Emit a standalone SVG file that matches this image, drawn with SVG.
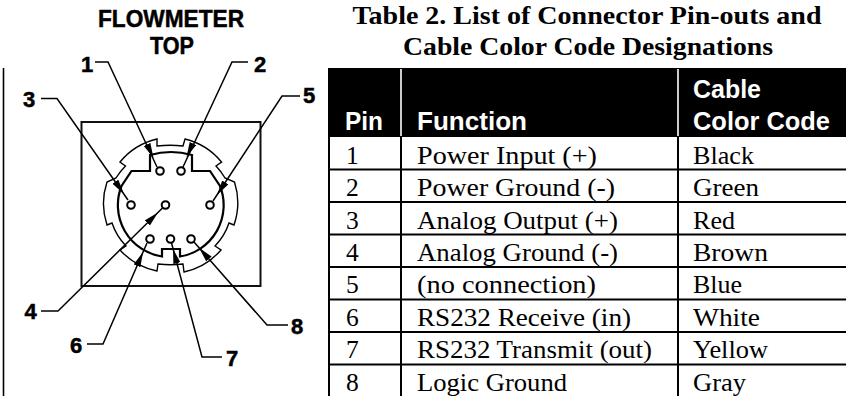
<svg xmlns="http://www.w3.org/2000/svg" width="846" height="396" viewBox="0 0 846 396">
<style>
.lbl{font:bold 22px "Liberation Sans",Arial,sans-serif;fill:#000;stroke:#000;stroke-width:.5}
.big{font-size:24px}
.ttl{font:bold 25px "Liberation Serif","Times New Roman",serif;fill:#000;text-anchor:middle}
.hd{font:bold 25px "Liberation Sans",Arial,sans-serif;fill:#fff}
.td{font:25.5px "Liberation Serif","Times New Roman",serif;fill:#000}
.ln{fill:none;stroke:#000;stroke-width:1.4}
.box{fill:none;stroke:#111;stroke-width:2}
.thick{fill:none;stroke:#000;stroke-width:2.2}
.pin{fill:#fff;stroke:#000;stroke-width:2}
.lead{fill:none;stroke:#000;stroke-width:1.5}
.arr{stroke:none;marker-end:url(#ah)}
.rule{stroke:#000;stroke-width:2;fill:none}
</style>
<defs>
<marker id="ah" markerUnits="userSpaceOnUse" markerWidth="16" markerHeight="9" refX="15" refY="4" orient="auto"><path d="M0,0.4L15,4L0,7.6Z" fill="#000"/></marker>
</defs>
<rect width="846" height="396" fill="#fff"/>
<line x1="3.500" y1="68" x2="3.500" y2="396" stroke="#000" stroke-width="1.600"/>
<g id="diagram-title">
<text class="lbl big" x="171" y="27" text-anchor="middle" textLength="146" lengthAdjust="spacingAndGlyphs">FLOWMETER</text>
<text class="lbl big" x="172" y="54" text-anchor="middle" textLength="44" lengthAdjust="spacingAndGlyphs">TOP</text>
</g>
<g id="connector-body">
<rect class="box" x="81.500" y="122" width="179" height="164"/>
<path class="ln" d="M157,139L157,146Q170.500,144.500 183,146L185,139A68,68 0 0 1 221.500,162L216,166A61,61 0 0 1 225,178L234.500,182A68,68 0 0 1 234,225L229,223A61,61 0 0 1 215,246L221,250A68,68 0 0 1 184,272L183,264Q170.500,265.500 158,264L157,271A68,68 0 0 1 120,250L126,246A61,61 0 0 1 112,223L107,225A68,68 0 0 1 107,182L116,178A61,61 0 0 1 125.500,166L120,162A68,68 0 0 1 157,139Z"/>
<path class="thick" d="M150,155Q171,149 192,155L192,171L210,171L220,186A52,52 0 0 1 180,256.500L180,249L162,249L162,256.500A52,52 0 0 1 121.500,186L131.500,171L150,171Z"/>
</g>
<g id="connectors">
<polyline class="lead" points="95,62 108,62 157,167"/>
<line class="arr" x1="108" y1="62" x2="153.500" y2="158"/>
<polyline class="lead" points="248,62 232,62 183,167"/>
<line class="arr" x1="232" y1="62" x2="186.500" y2="157"/>
<polyline class="lead" points="41,98.500 57,98.500 128,200"/>
<line class="arr" x1="57" y1="98.500" x2="124" y2="194"/>
<polyline class="lead" points="300,96 282,96 213,201"/>
<line class="arr" x1="282" y1="96" x2="217" y2="195"/>
<polyline class="lead" points="41,311 58,311 162.500,208"/>
<line class="arr" x1="58" y1="311" x2="158" y2="212.400"/>
<polyline class="lead" points="87,344 103,344 147,243"/>
<line class="arr" x1="103" y1="344" x2="143" y2="252"/>
<polyline class="lead" points="222,357 202,357 171.500,243"/>
<line class="arr" x1="202" y1="357" x2="173" y2="248.700"/>
<polyline class="lead" points="288,325 267,325 194,242"/>
<line class="arr" x1="267" y1="325" x2="199" y2="247.700"/>
</g>
<g id="pin-1"><circle class="pin" cx="160" cy="171" r="3.800"/><text class="lbl" x="81" y="71.500">1</text></g>
<g id="pin-2"><circle class="pin" cx="181" cy="171" r="3.800"/><text class="lbl" x="254" y="71.500">2</text></g>
<g id="pin-3"><circle class="pin" cx="131" cy="205" r="3.800"/><text class="lbl" x="23" y="107">3</text></g>
<g id="pin-4"><circle class="pin" cx="165.500" cy="205" r="3.800"/><text class="lbl" x="24.500" y="319">4</text></g>
<g id="pin-5"><circle class="pin" cx="210" cy="205" r="3.800"/><text class="lbl" x="303" y="103">5</text></g>
<g id="pin-6"><circle class="pin" cx="150" cy="239" r="3.800"/><text class="lbl" x="70" y="353">6</text></g>
<g id="pin-7"><circle class="pin" cx="170.500" cy="239" r="3.800"/><text class="lbl" x="226" y="366">7</text></g>
<g id="pin-8"><circle class="pin" cx="191" cy="239" r="3.800"/><text class="lbl" x="291" y="334">8</text></g>
<g id="table-title">
<text class="ttl" x="587" y="23.500" textLength="469" lengthAdjust="spacingAndGlyphs">Table 2. List of Connector Pin-outs and</text>
<text class="ttl" x="588" y="55" textLength="370" lengthAdjust="spacingAndGlyphs">Cable Color Code Designations</text>
</g>
<g id="table">
<rect x="328" y="68" width="518" height="69" fill="#000"/>
<line x1="401" y1="69" x2="401" y2="136" stroke="#fff" stroke-width="1.600"/>
<line x1="678" y1="69" x2="678" y2="136" stroke="#fff" stroke-width="1.600"/>
<text class="hd" x="345" y="130" textLength="38" lengthAdjust="spacingAndGlyphs">Pin</text>
<text class="hd" x="417" y="130" textLength="110" lengthAdjust="spacingAndGlyphs">Function</text>
<text class="hd" x="693" y="98" textLength="68" lengthAdjust="spacingAndGlyphs">Cable</text>
<text class="hd" x="693" y="129.500" textLength="137" lengthAdjust="spacingAndGlyphs">Color Code</text>
<path class="rule" d="M329,137V396M401,137V396M678,137V396M328,169.500H846M328,202H846M328,234.500H846M328,267H846M328,299.500H846M328,332H846M328,364.500H846"/>
<text class="td" x="346" y="163.500">1</text><text class="td" x="417" y="163.500" textLength="180" lengthAdjust="spacingAndGlyphs">Power Input (+)</text><text class="td" x="693" y="163.500" textLength="61" lengthAdjust="spacingAndGlyphs">Black</text>
<text class="td" x="346" y="196">2</text><text class="td" x="417" y="196" textLength="198" lengthAdjust="spacingAndGlyphs">Power Ground (-)</text><text class="td" x="693" y="196" textLength="66" lengthAdjust="spacingAndGlyphs">Green</text>
<text class="td" x="346" y="228.500">3</text><text class="td" x="417" y="228.500" textLength="201" lengthAdjust="spacingAndGlyphs">Analog Output (+)</text><text class="td" x="693" y="228.500" textLength="42" lengthAdjust="spacingAndGlyphs">Red</text>
<text class="td" x="346" y="260.500">4</text><text class="td" x="417" y="260.500" textLength="201" lengthAdjust="spacingAndGlyphs">Analog Ground (-)</text><text class="td" x="693" y="260.500" textLength="75" lengthAdjust="spacingAndGlyphs">Brown</text>
<text class="td" x="346" y="293">5</text><text class="td" x="417" y="293" textLength="179" lengthAdjust="spacingAndGlyphs">(no connection)</text><text class="td" x="693" y="293" textLength="49" lengthAdjust="spacingAndGlyphs">Blue</text>
<text class="td" x="346" y="325.500">6</text><text class="td" x="417" y="325.500" textLength="214" lengthAdjust="spacingAndGlyphs">RS232 Receive (in)</text><text class="td" x="693" y="325.500" textLength="67" lengthAdjust="spacingAndGlyphs">White</text>
<text class="td" x="346" y="358">7</text><text class="td" x="417" y="358" textLength="235" lengthAdjust="spacingAndGlyphs">RS232 Transmit (out)</text><text class="td" x="693" y="358" textLength="75" lengthAdjust="spacingAndGlyphs">Yellow</text>
<text class="td" x="346" y="391">8</text><text class="td" x="417" y="391" textLength="150" lengthAdjust="spacingAndGlyphs">Logic Ground</text><text class="td" x="693" y="391" textLength="53" lengthAdjust="spacingAndGlyphs">Gray</text>
</g>
</svg>
